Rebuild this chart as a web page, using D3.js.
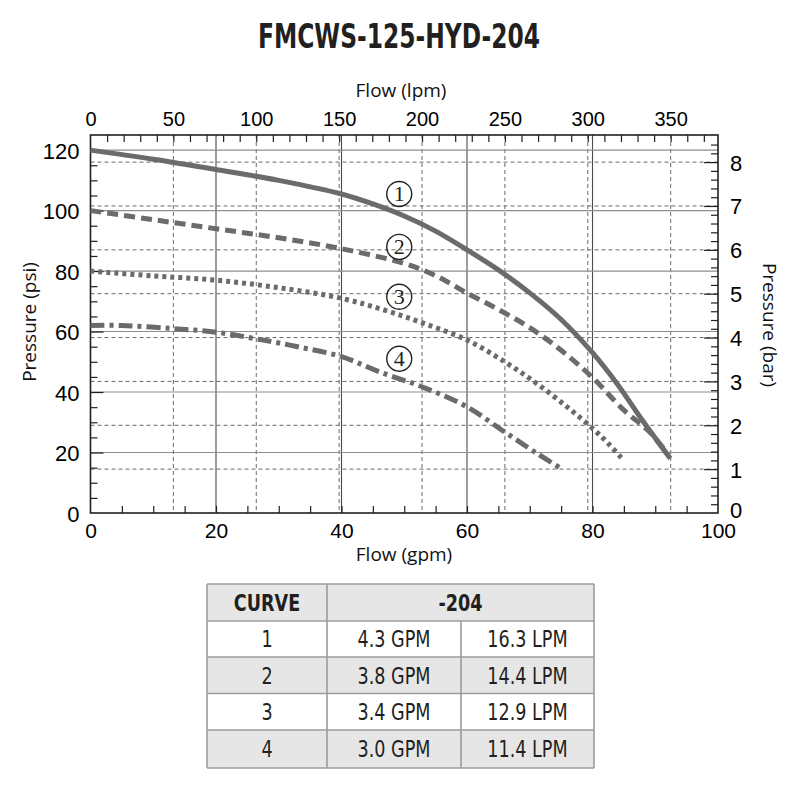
<!DOCTYPE html>
<html>
<head>
<meta charset="utf-8">
<script src="https://cdn.jsdelivr.net/npm/d3@7"></script>
<style>
  body { margin: 0; background: #fff; }
  svg { display: block; }
</style>
</head>
<body>
<div id="chart-area"></div>
<script>
// chart values
var gpmTicks = [0, 20, 40, 60, 80, 100];
var psiTicks = [0, 20, 40, 60, 80, 100, 120];
var lpmTicks = [0, 50, 100, 150, 200, 250, 300, 350];
var barTicks = [0, 1, 2, 3, 4, 5, 6, 7, 8];

// curves: [gpm, psi]
var curve1 = [[0, 120], [10, 117], [20, 113.6], [30, 110], [40, 105.5], [45, 102.2], [50, 98.2],
    [55, 93.2], [60, 87], [65, 80.4], [70, 72.8], [75, 64], [80, 53], [84, 42.5], [88, 30.5], [92.4, 18]];
var curve2 = [[0, 100], [10, 97], [20, 94], [30, 91], [40, 87.4], [50, 82.5], [55, 78.5],
    [60, 72.7], [65, 67.3], [70, 61.3], [75, 53.8], [80, 44.8], [85, 34], [89, 27], [92, 19.5]];
var curve3 = [[0, 80], [10, 78.4], [20, 77], [30, 74.5], [40, 71], [47, 67], [53, 62.8],
    [60, 57.2], [66, 50], [71, 43], [76, 35], [80, 28], [82.5, 23], [84.7, 18]];
var curve4 = [[0, 62], [5, 62], [13, 61], [20, 59.8], [26.4, 57.6], [33, 55], [40, 51.7],
    [46, 46.7], [53, 41.6], [60, 35.1], [66, 26.8], [71, 19.9], [75, 14.7]];
var curveLabels = ["1", "2", "3", "4"];
var labelPsi = [105.5, 88, 71.5, 51];
var labelGpm = 49.2;

// table
var tableHead = ["CURVE", "-204"];
var tableCurves = ["1", "2", "3", "4"];
var tableGpm = ["4.3 GPM", "3.8 GPM", "3.4 GPM", "3.0 GPM"];
var tableLpm = ["16.3 LPM", "14.4 LPM", "12.9 LPM", "11.4 LPM"];

var LPM_PER_GPM = 3.78541;
var PSI_PER_BAR = 14.5038;

var W = 797, H = 792;
var plot = { left: 90.5, right: 718, top: 135, bottom: 513 };
var ink = "#231f20";
var curveColor = "#6b6b6b";
var tickFont = "'Liberation Sans', Arial, sans-serif";
var titleFont = "'Open Sans', 'Noto Sans', sans-serif";
var narrowFont = "'Liberation Sans Narrow', 'Arial Narrow', 'DejaVu Sans Condensed', sans-serif";

var svg = d3.select("#chart-area")
    .append("svg")
    .attr("width", W)
    .attr("height", H);

var x = d3.scaleLinear().domain([0, 100]).range([plot.left, plot.right]);
var y = d3.scaleLinear().domain([0, 125]).range([plot.bottom, plot.top]);
var xL = d3.scaleLinear().domain([0, 100 * LPM_PER_GPM]).range([plot.left, plot.right]);
var yB = d3.scaleLinear().domain([0, 125 / PSI_PER_BAR]).range([plot.bottom, plot.top]);

// title
svg.append("text")
    .attr("x", 399)
    .attr("y", 48)
    .attr("text-anchor", "middle")
    .attr("font-family", narrowFont)
    .attr("font-weight", "bold")
    .attr("font-size", 34)
    .attr("textLength", 282)
    .attr("lengthAdjust", "spacingAndGlyphs")
    .attr("fill", ink)
    .text("FMCWS-125-HYD-204");

// grid: dashed (lpm / bar)
var grid = svg.append("g");
grid.selectAll(".vd")
    .data(lpmTicks.filter(d => d > 0))
    .enter().append("line")
    .attr("x1", d => xL(d)).attr("x2", d => xL(d))
    .attr("y1", plot.top).attr("y2", plot.bottom)
    .attr("stroke", "#6a6a6a").attr("stroke-width", 1)
    .attr("stroke-dasharray", "4,3");
grid.selectAll(".hd")
    .data(barTicks.filter(d => d > 0))
    .enter().append("line")
    .attr("x1", plot.left).attr("x2", plot.right)
    .attr("y1", d => yB(d)).attr("y2", d => yB(d))
    .attr("stroke", "#6a6a6a").attr("stroke-width", 1)
    .attr("stroke-dasharray", "4,3");

// grid: solid (gpm / psi)
grid.selectAll(".vs")
    .data(gpmTicks.filter(d => d > 0 && d < 100))
    .enter().append("line")
    .attr("x1", d => x(d)).attr("x2", d => x(d))
    .attr("y1", plot.top).attr("y2", plot.bottom)
    .attr("stroke", "#4a4a4a").attr("stroke-width", 1.1);
grid.selectAll(".hs")
    .data(psiTicks.filter(d => d > 0))
    .enter().append("line")
    .attr("x1", plot.left).attr("x2", plot.right)
    .attr("y1", d => y(d)).attr("y2", d => y(d))
    .attr("stroke", "#8e8e8e").attr("stroke-width", 1.1);

// minor ticks (inward)
function styleAxis(g) {
    g.select(".domain").remove();
    g.selectAll("line").attr("stroke", ink).attr("stroke-width", 1.2);
}
svg.append("g")
    .attr("transform", "translate(0," + plot.bottom + ")")
    .call(d3.axisBottom(x).tickValues(d3.range(5, 100, 5)).tickSize(-7).tickFormat(""))
    .call(styleAxis);
svg.append("g")
    .attr("transform", "translate(" + plot.left + ",0)")
    .call(d3.axisLeft(y).tickValues(d3.range(5, 125, 5).filter(d => d % 20 !== 0)).tickSize(-7).tickFormat(""))
    .call(styleAxis);
svg.append("g")
    .attr("transform", "translate(" + plot.left + ",0)")
    .call(d3.axisLeft(y).tickValues(psiTicks.slice(1)).tickSize(-13).tickFormat(""))
    .call(styleAxis);
svg.append("g")
    .attr("transform", "translate(0," + plot.top + ")")
    .call(d3.axisTop(xL).tickValues(d3.range(10, 380, 10)).tickSize(-7).tickFormat(""))
    .call(styleAxis);
svg.append("g")
    .attr("transform", "translate(" + plot.right + ",0)")
    .call(d3.axisRight(yB).tickValues(d3.range(1, 43).map(d => d * 0.2).filter(d => Math.abs(d - Math.round(d)) > 0.01)).tickSize(-7).tickFormat(""))
    .call(styleAxis);
svg.append("g")
    .attr("transform", "translate(" + plot.right + ",0)")
    .call(d3.axisRight(yB).tickValues(barTicks.slice(1)).tickSize(-14).tickFormat(""))
    .call(styleAxis);

// tick labels
function styleLabels(g, size) {
    g.select(".domain").remove();
    g.selectAll("line").remove();
    g.selectAll("text")
        .attr("font-family", tickFont)
        .attr("font-size", size)
        .attr("fill", "#000");
}
svg.append("g")
    .attr("transform", "translate(0," + plot.bottom + ")")
    .call(d3.axisBottom(x).tickValues(gpmTicks).tickSize(0).tickPadding(10))
    .call(styleLabels, 21);
svg.append("g")
    .attr("transform", "translate(" + plot.left + ",0)")
    .call(d3.axisLeft(y).tickValues(psiTicks).tickSize(0).tickPadding(11))
    .call(styleLabels, 22)
    .selectAll("text").attr("dy", "0.38em");
svg.append("g")
    .attr("transform", "translate(0," + plot.top + ")")
    .call(d3.axisTop(xL).tickValues(lpmTicks).tickSize(0).tickPadding(9))
    .call(styleLabels, 20);
svg.append("g")
    .attr("transform", "translate(" + plot.right + ",0)")
    .call(d3.axisRight(yB).tickValues(barTicks).tickSize(0).tickPadding(12))
    .call(styleLabels, 22)
    .selectAll("text").attr("dy", (d) => (d === 0 ? "0.2em" : "0.36em"));

// frame
svg.append("rect")
    .attr("x", plot.left).attr("y", plot.top)
    .attr("width", plot.right - plot.left)
    .attr("height", plot.bottom - plot.top)
    .attr("fill", "none")
    .attr("stroke", ink)
    .attr("stroke-width", 1.6);

// axis titles
function axisTitle(tx, ty, rot, label) {
    svg.append("text")
        .attr("transform", "translate(" + tx + "," + ty + ") rotate(" + rot + ")")
        .attr("text-anchor", "middle")
        .attr("font-family", titleFont)
        .attr("font-size", 19)
        .attr("fill", "#111")
        .text(label);
}
axisTitle(401, 97, 0, "Flow (lpm)");
axisTitle(404, 561, 0, "Flow (gpm)");
axisTitle(36, 322, -90, "Pressure (psi)");
axisTitle(763, 325, 90, "Pressure (bar)");

// curves
var line = d3.line()
    .x(d => x(d[0]))
    .y(d => y(d[1]))
    .curve(d3.curveCatmullRom.alpha(0.5));

var curves = [
    { data: curve1, dash: null },
    { data: curve2, dash: "11,6" },
    { data: curve3, dash: "4,4" },
    { data: curve4, dash: "14,5,4,5" }
];
svg.selectAll(".curve")
    .data(curves)
    .enter().append("path")
    .attr("class", "curve")
    .attr("d", d => line(d.data))
    .attr("fill", "none")
    .attr("stroke", curveColor)
    .attr("stroke-width", 5)
    .attr("stroke-dasharray", d => d.dash);

// circled curve numbers
var marks = svg.selectAll(".mark")
    .data(curveLabels)
    .enter().append("g")
    .attr("transform", (d, i) => "translate(" + x(labelGpm) + "," + y(labelPsi[i]) + ")");
marks.append("circle")
    .attr("r", 12.5)
    .attr("fill", "none")
    .attr("stroke", "#222")
    .attr("stroke-width", 1.4);
marks.append("text")
    .attr("text-anchor", "middle")
    .attr("dy", "0.34em")
    .attr("font-family", "'Liberation Serif', 'DejaVu Serif', serif")
    .attr("font-size", 22)
    .attr("fill", "#222")
    .text(d => d);

// table
var colX = [207, 327, 461, 594];
var rowY = [584, 621, 657, 693.5, 730, 768];
var table = svg.append("g");

table.selectAll(".row")
    .data(d3.range(5))
    .enter().append("rect")
    .attr("x", colX[0])
    .attr("y", i => rowY[i])
    .attr("width", colX[3] - colX[0])
    .attr("height", i => rowY[i + 1] - rowY[i])
    .attr("fill", i => (i % 2 === 0 ? "#e6e6e6" : "#ffffff"));

var border = "#9c9c9c";
table.selectAll(".hl")
    .data(rowY)
    .enter().append("line")
    .attr("x1", colX[0]).attr("x2", colX[3])
    .attr("y1", d => d).attr("y2", d => d)
    .attr("stroke", border).attr("stroke-width", 1.6);
table.selectAll(".vl")
    .data(colX)
    .enter().append("line")
    .attr("x1", d => d).attr("x2", d => d)
    .attr("y1", (d, i) => (i === 2 ? rowY[1] : rowY[0]))
    .attr("y2", rowY[5])
    .attr("stroke", border).attr("stroke-width", 1.6);

// condensed look: squeeze the text horizontally
function cell(cx, cy, label, bold) {
    table.append("text")
        .attr("transform", "translate(" + cx + "," + cy + ") scale(0.85,1)")
        .attr("text-anchor", "middle")
        .attr("dy", "0.36em")
        .attr("font-family", narrowFont)
        .attr("font-weight", bold ? "bold" : "normal")
        .attr("font-size", 23)
        .attr("fill", ink)
        .text(label);
}
cell((colX[0] + colX[1]) / 2, (rowY[0] + rowY[1]) / 2, tableHead[0], true);
cell((colX[1] + colX[3]) / 2, (rowY[0] + rowY[1]) / 2, tableHead[1], true);
tableCurves.forEach(function(c, i) {
    var cy = (rowY[i + 1] + rowY[i + 2]) / 2;
    cell((colX[0] + colX[1]) / 2, cy, c, false);
    cell((colX[1] + colX[2]) / 2, cy, tableGpm[i], false);
    cell((colX[2] + colX[3]) / 2, cy, tableLpm[i], false);
});
</script>
</body>
</html>
